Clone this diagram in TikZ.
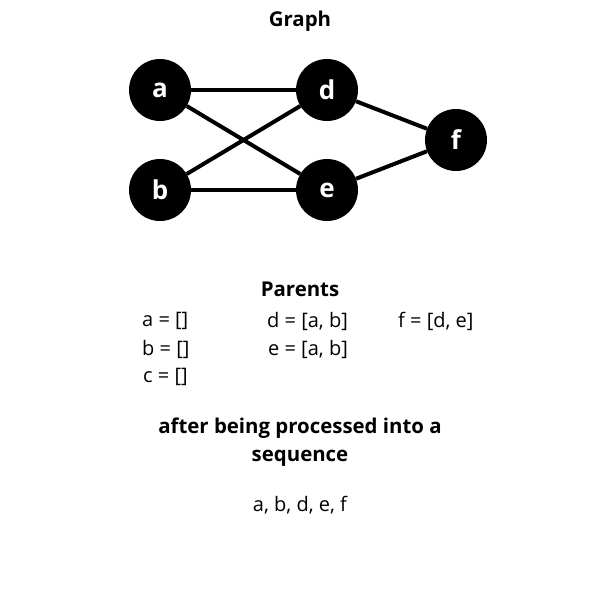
\documentclass[tikz,border=0pt]{standalone}
\usepackage{fontspec}
\setmainfont{Open Sans}
\begin{document}
\begin{tikzpicture}[x=1pt,y=-1pt,
  vtx/.style={circle,fill=black,minimum size=62pt,inner sep=0pt,text=white,font=\fontsize{26}{30}\selectfont\bfseries},
  edge/.style={line width=4pt,black},
  ttl/.style={font=\fontsize{20.4}{28}\selectfont\bfseries,inner sep=0pt,align=center},
  txt/.style={font=\fontsize{20}{24}\selectfont,inner sep=0pt,anchor=west}]
\useasboundingbox (0,0) rectangle (600,600);
\node[ttl] (title) at (300,21.5) {Graph};
\node[vtx] (a) at (160,90) {a};
\node[vtx] (d) at (327,90) {d};
\node[vtx] (b) at (160,190) {b};
\node[vtx] (e) at (327,190) {e};
\node[vtx] (f) at (456,140) {f};
\draw[edge] (a) -- (d);
\draw[edge] (a) -- (e);
\draw[edge] (b) -- (d);
\draw[edge] (b) -- (e);
\draw[edge] (d) -- (f);
\draw[edge] (e) -- (f);
\node[ttl] (parents) at (300,289.5) {Parents};
\node[txt] (pa) at (142,321) {a = []};
\node[txt] (pb) at (142,349) {b = []};
\node[txt] (pc) at (143,377) {c = []};
\node[txt] (pd) at (267,321) {d = [a, b]};
\node[txt] (pe) at (268,349) {e = [a, b]};
\node[txt] (pf) at (398,321) {f = [d, e]};
\node[ttl] (after) at (300,442.5) {after being processed into a\\sequence};
\node[font=\fontsize{20}{24}\selectfont,inner sep=0pt] (seq) at (300,505) {a, b, d, e, f};
\end{tikzpicture}
\end{document}
